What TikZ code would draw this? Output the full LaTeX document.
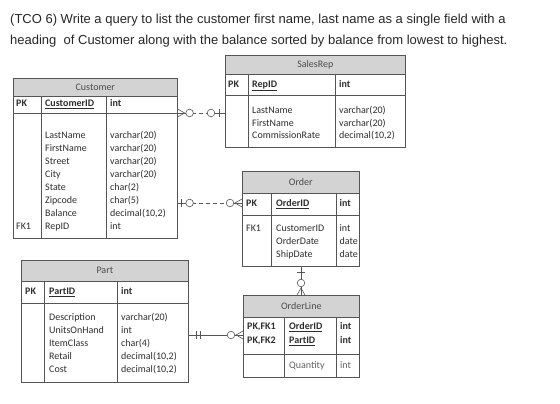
\documentclass[tikz,border=0pt]{standalone}
\usepackage{fontspec}
\usepackage{tikz}
\usetikzlibrary{positioning,calc}
\newfontfamily\erfont{Carlito}
\newfontfamily\qfont{Liberation Sans}
\definecolor{hdrgrey}{RGB}{211,211,211}
\definecolor{linegrey}{RGB}{85,85,85}
\definecolor{txtgrey}{RGB}{45,45,45}
\newcommand{\keyfld}[1]{\textbf{\underline{#1}}}

\begin{document}
\begin{tikzpicture}[x=1pt, y=-1pt,
    tbl/.style={draw=linegrey, line width=0.6pt, anchor=north west, inner sep=0pt},
    hdr/.style={draw=linegrey, fill=hdrgrey, line width=0.6pt, anchor=north west, inner sep=0pt,
                font=\erfont\fontsize{10}{12}\selectfont, text=txtgrey!85},
    sep/.style={draw=linegrey, line width=0.6pt},
    fld/.style={anchor=west, inner sep=0pt, text height=7pt, text depth=2pt,
                font=\erfont\fontsize{10}{12}\selectfont, text=txtgrey},
    rel/.style={draw=linegrey, line width=0.6pt},
    reldash/.style={rel, dash pattern=on 4pt off 3pt},
    relsym/.style={rel, fill=white}]

    \path[use as bounding box] (0,0) rectangle (560,404);

    % question
    \node[anchor=west, inner sep=0pt, font=\qfont\fontsize{13}{15}\selectfont, text=black!85] (q1) at (10,20)
        {(TCO 6) Write a query to list the customer first name, last name as a single field with a};
    \node[anchor=west, inner sep=0pt, font=\qfont\fontsize{13}{15}\selectfont, text=black!85] (q2) at (10,41)
        {heading\ \ of Customer along with the balance sorted by balance from lowest to highest.};

    % Customer
    \node[tbl, minimum width=164pt, minimum height=160pt] (cust) at (13,78) {};
    \node[hdr, minimum width=164pt, minimum height=18pt] (cust-h) at (cust.north west) {Customer};
    \draw[sep] (13,113) -- (177,113);
    \draw[sep] (41,96) -- (41,238);
    \draw[sep] (106,96) -- (106,238);
    \node[fld] at (16,104) {\textbf{PK}};
    \node[fld] at (45,104) {\keyfld{CustomerID}};
    \node[fld] at (110,104) {\textbf{int}};
    \foreach \n [count=\i from 0] in {LastName,FirstName,Street,City,State,Zipcode,Balance,RepID}
        \node[fld] at (45,{136.5+12.95*\i}) {\n};
    \foreach \t [count=\i from 0] in {varchar(20),varchar(20),varchar(20),varchar(20),char(2),char(5),{decimal(10,2)},int}
        \node[fld] at (110,{136.5+12.95*\i}) {\t};
    \node[fld] at (16,227.3) {FK1};

    % SalesRep
    \node[tbl, minimum width=180pt, minimum height=92pt] (rep) at (225,55) {};
    \node[hdr, minimum width=180pt, minimum height=19pt] (rep-h) at (rep.north west) {SalesRep};
    \draw[sep] (225,95) -- (405,95);
    \draw[sep] (248,74) -- (248,147);
    \draw[sep] (335,74) -- (335,147);
    \node[fld] at (228,85) {\textbf{PK}};
    \node[fld] at (252,85) {\keyfld{RepID}};
    \node[fld] at (339,85) {\textbf{int}};
    \foreach \n/\t [count=\i from 0] in {LastName/varchar(20),FirstName/varchar(20),CommissionRate/decimal(10{,}2)} {
        \node[fld] at (252,{111+12.5*\i}) {\n};
        \node[fld] at (339,{111+12.5*\i}) {\t};
    }

    % Order
    \node[tbl, minimum width=117pt, minimum height=95pt] (ord) at (242,171) {};
    \node[hdr, minimum width=117pt, minimum height=22pt] (ord-h) at (ord.north west) {Order};
    \draw[sep] (242,215) -- (359,215);
    \draw[sep] (271,193) -- (271,266);
    \draw[sep] (336,193) -- (336,266);
    \node[fld] at (246,204) {\textbf{PK}};
    \node[fld] at (276,204) {\keyfld{OrderID}};
    \node[fld] at (339.5,204) {\textbf{int}};
    \node[fld] at (246,229) {FK1};
    \foreach \n/\t [count=\i from 0] in {CustomerID/int,OrderDate/date,ShipDate/date} {
        \node[fld] at (276,{229+13*\i}) {\n};
        \node[fld] at (339.5,{229+13*\i}) {\t};
    }

    % Part
    \node[tbl, minimum width=167pt, minimum height=122pt] (part) at (21,260) {};
    \node[hdr, minimum width=167pt, minimum height=21pt] (part-h) at (part.north west) {Part};
    \draw[sep] (21,303) -- (188,303);
    \draw[sep] (44,281) -- (44,382);
    \draw[sep] (117,281) -- (117,382);
    \node[fld] at (25,292) {\textbf{PK}};
    \node[fld] at (49,292) {\keyfld{PartID}};
    \node[fld] at (121,292) {\textbf{int}};
    \foreach \n/\t [count=\i from 0] in {Description/varchar(20),UnitsOnHand/int,ItemClass/char(4),Retail/decimal(10{,}2),Cost/decimal(10{,}2)} {
        \node[fld] at (49,{318+13*\i}) {\n};
        \node[fld] at (121,{318+13*\i}) {\t};
    }

    % OrderLine
    \node[tbl, minimum width=116pt, minimum height=82pt] (line) at (243,295) {};
    \node[hdr, minimum width=116pt, minimum height=22pt] (line-h) at (line.north west) {OrderLine};
    \draw[sep] (243,354) -- (359,354);
    \draw[sep] (284,317) -- (284,377);
    \draw[sep] (336,317) -- (336,377);
    \node[fld] at (247,327) {\textbf{PK,FK1}};
    \node[fld] at (247,341) {\textbf{PK,FK2}};
    \node[fld] at (289,327) {\keyfld{OrderID}};
    \node[fld] at (289,341) {\keyfld{PartID}};
    \node[fld] at (340,327) {\textbf{int}};
    \node[fld] at (340,341) {\textbf{int}};
    \node[fld, text=txtgrey!75] at (289,366) {Quantity};
    \node[fld, text=txtgrey!75] at (340,366) {int};

    % relationships
    \coordinate (cr1) at (cust.east |- 0,113);
    \coordinate (cr2) at (rep.west |- 0,113);
    \draw[reldash] (cr1) -- (cr2);
    \draw[rel] (cr1) -- ++(8,0);
    \draw[rel] (cr2) -- ++(-10,0);
    \draw[rel] ($(cr1)+(0,-4)$) -- ++(7,4) -- ++(-7,4);
    \draw[relsym] ($(cr1)+(12,0)$) circle (3.8pt);
    \draw[relsym] ($(cr2)+(-14,0)$) circle (3.8pt);
    \draw[rel] ($(cr2)+(-6,-4)$) -- ++(0,8);

    \coordinate (co1) at (cust.east |- 0,203);
    \coordinate (co2) at (ord.west |- 0,203);
    \draw[reldash] (co1) -- (co2);
    \draw[rel] (co1) -- ++(10,0);
    \draw[rel] (co2) -- ++(-10,0);
    \draw[rel] ($(co1)+(4,-4)$) -- ++(0,8);
    \draw[relsym] ($(co1)+(12,0)$) circle (3.8pt);
    \draw[rel] ($(co2)+(0,-4)$) -- ++(-7,4) -- ++(7,4);
    \draw[relsym] ($(co2)+(-12,0)$) circle (3.8pt);

    \coordinate (pl1) at (part.east |- 0,335);
    \coordinate (pl2) at (line.west |- 0,335);
    \draw[rel] (pl1) -- (pl2);
    \draw[rel] ($(pl1)+(8,-4)$) -- ++(0,8);
    \draw[rel] ($(pl1)+(12,-4)$) -- ++(0,8);
    \draw[rel] ($(pl2)+(0,-4)$) -- ++(-7,4) -- ++(7,4);
    \draw[relsym] ($(pl2)+(-12,0)$) circle (3.8pt);

    \coordinate (ol1) at (ord.south -| 301,0);
    \coordinate (ol2) at (line.north -| 301,0);
    \draw[rel] (ol1) -- (ol2);
    \draw[rel] ($(ol1)+(-4,6)$) -- ++(8,0);
    \draw[rel] ($(ol2)+(-4,0)$) -- ++(4,-7) -- ++(4,7);
    \draw[relsym] ($(ol2)+(0,-12)$) circle (3.8pt);
\end{tikzpicture}
\end{document}
